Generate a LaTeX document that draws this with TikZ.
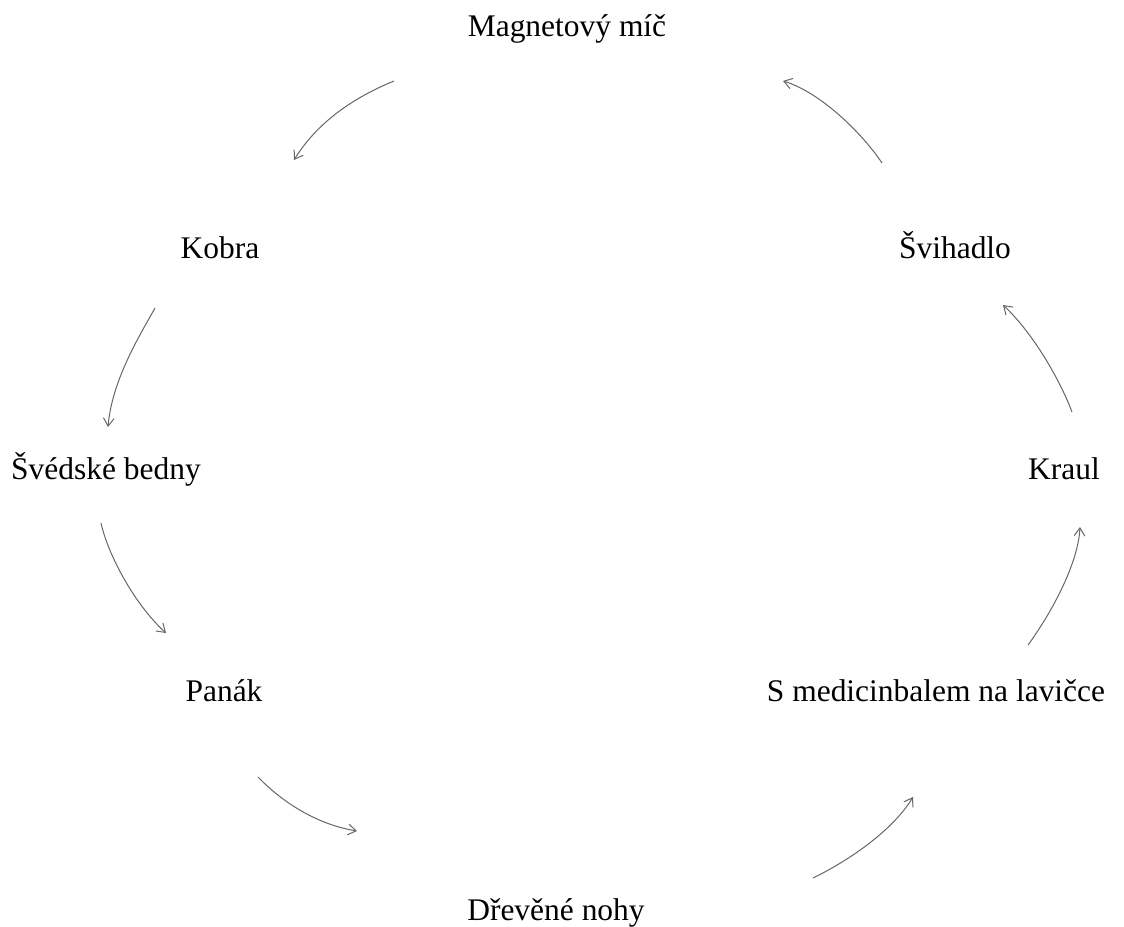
\documentclass[tikz,border=0pt]{standalone}
\usepackage{fontspec}
\setmainfont{Liberation Serif}
\usetikzlibrary{arrows.meta}
\begin{document}
\begin{tikzpicture}[x=0.75pt,y=-0.75pt,
  lbl/.style={anchor=base,inner sep=0pt,font=\fontsize{23.6}{28}\selectfont},
  flow/.style={draw=black!60,line width=0.75pt,-{Straight Barb[length=6pt,width=8pt]}}]
\useasboundingbox (0,0) rectangle (1124,927);
\node[lbl] (mag) at (567,37) {Magnetový míč};
\node[lbl] (kob) at (220,259) {Kobra};
\node[lbl] (svi) at (955,259) {Švihadlo};
\node[lbl] (sve) at (106,479) {Švédské bedny};
\node[lbl] (kra) at (1064,479) {Kraul};
\node[lbl] (pan) at (224,701) {Panák};
\node[lbl] (med) at (936,701) {S medicinbalem na lavičce};
\node[lbl] (dre) at (556,920) {Dřevěné nohy};
\coordinate (a1s) at (394,81);  \coordinate (a1e) at (294,160);
\coordinate (a2s) at (882,163); \coordinate (a2e) at (783,81);
\coordinate (a3s) at (155,308); \coordinate (a3e) at (108,427);
\coordinate (a4s) at (1072,412);\coordinate (a4e) at (1003,305);
\coordinate (a5s) at (101,523); \coordinate (a5e) at (166,633);
\coordinate (a6s) at (1028,645);\coordinate (a6e) at (1080,527);
\coordinate (a7s) at (258,777); \coordinate (a7e) at (357,831);
\coordinate (a8s) at (813,878); \coordinate (a8e) at (913,797);
\draw[flow] (a1s) .. controls (360,95) and (320,118) .. (a1e);
\draw[flow] (a2s) .. controls (862,133) and (820,92) .. (a2e);
\draw[flow] (a3s) .. controls (140,335) and (112,380) .. (a3e);
\draw[flow] (a4s) .. controls (1058,375) and (1030,330) .. (a4e);
\draw[flow] (a5s) .. controls (108,555) and (135,605) .. (a5e);
\draw[flow] (a6s) .. controls (1050,615) and (1078,565) .. (a6e);
\draw[flow] (a7s) .. controls (285,805) and (320,825) .. (a7e);
\draw[flow] (a8s) .. controls (850,860) and (893,830) .. (a8e);
\end{tikzpicture}
\end{document}
